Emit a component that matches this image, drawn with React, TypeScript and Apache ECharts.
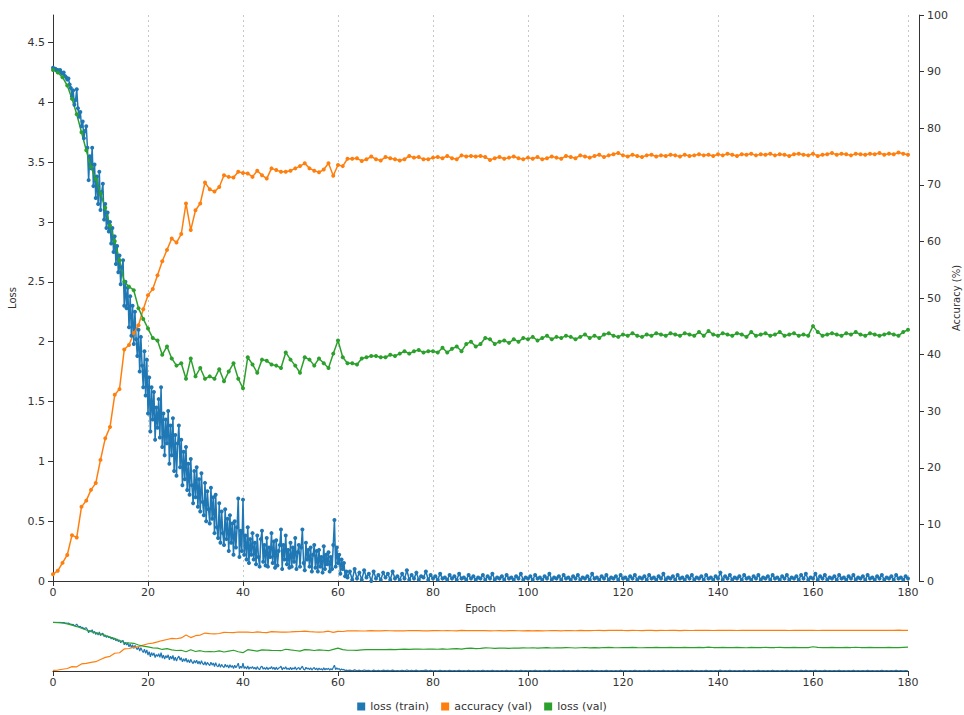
import React, { useEffect, useRef } from "react";
import * as echarts from "echarts";

const FONT = "DejaVu Sans";
const BLUE = "#1f77b4";
const ORANGE = "#ff7f0e";
const GREEN = "#2ca02c";

const seriesNames = ["loss (train)", "accuracy (val)", "loss (val)"];

// train loss, epochs 0..62 sampled every quarter epoch (index i -> epoch i/4)
const trainLossEarly = [
  4.29, 4.28, 4.28, 4.27, 4.27, 4.26, 4.27, 4.25, 4.24, 4.25, 4.22, 4.21,
  4.19, 4.2, 4.15, 4.12, 4.05, 4.1, 3.98, 4.02, 4.11, 3.95, 3.88, 3.92,
  3.8, 3.84, 3.7, 3.76, 3.8, 3.62, 3.35, 3.55, 3.45, 3.62, 3.3, 3.48,
  3.2, 3.38, 3.15, 3.42, 3.1, 3.25, 3.32, 3.02, 3.15, 2.95, 3.08, 2.92,
  3.0, 2.82, 2.95, 2.75, 2.88, 2.65, 2.8, 2.58, 2.72, 2.48, 2.62, 2.68,
  2.3, 2.5, 2.28, 2.45, 2.12, 2.38, 2.05, 2.3, 1.98, 2.25, 2.02, 1.88,
  2.1, 1.75, 2.04, 1.8, 1.62, 1.92, 1.55, 1.85, 1.4, 1.7, 1.25, 1.62,
  1.35, 1.58, 1.18, 1.45, 1.28, 1.52, 1.2, 1.62, 1.12, 1.4, 1.05, 1.35,
  1.15, 1.42, 0.98, 1.3, 1.05, 1.36, 0.92, 1.22, 0.88, 1.15, 1.3, 0.95,
  1.18, 0.8, 1.08, 0.85, 1.12, 0.76, 0.98, 0.72, 1.02, 0.8, 0.65, 0.92,
  0.7, 0.95, 0.62, 0.85, 0.58, 0.9, 0.66, 0.55, 0.82, 0.5, 0.75, 0.6,
  0.48, 0.78, 0.52, 0.7, 0.4, 0.72, 0.45, 0.36, 0.65, 0.32, 0.58, 0.4,
  0.3, 0.6, 0.35, 0.52, 0.25, 0.55, 0.32, 0.48, 0.22, 0.5, 0.28, 0.45,
  0.69, 0.2, 0.42, 0.25, 0.68, 0.22, 0.38, 0.18, 0.45, 0.15, 0.35, 0.22,
  0.4, 0.18, 0.32, 0.14, 0.38, 0.2, 0.12, 0.35, 0.42, 0.16, 0.3, 0.13,
  0.36, 0.12, 0.28, 0.2, 0.4, 0.15, 0.33, 0.11, 0.34, 0.13, 0.25, 0.3,
  0.43, 0.1, 0.3, 0.18, 0.38, 0.14, 0.26, 0.11, 0.32, 0.12, 0.28, 0.16,
  0.36, 0.1, 0.24, 0.3, 0.12, 0.28, 0.43, 0.15, 0.09, 0.32, 0.18, 0.26,
  0.12, 0.28, 0.08, 0.22, 0.3, 0.11, 0.25, 0.08, 0.26, 0.12, 0.2, 0.07,
  0.29, 0.1, 0.22, 0.14, 0.24, 0.08, 0.2, 0.1, 0.3, 0.51, 0.12, 0.28,
  0.15, 0.22, 0.06, 0.18, 0.1, 0.15, 0.04, 0.08, 0.03,
];

// train loss, epochs 62.5..180 sampled every half epoch (index i -> 62.5 + i/2)
const trainLossLate = [
  0.08, 0.01, 0.1, 0.02, 0.07,
  0.01, 0.09, 0.03, 0.06, 0.0, 0.08, 0.02, 0.05, 0.01, 0.07,
  0.03, 0.06, 0.01, 0.08, 0.02, 0.04, 0.01, 0.06, 0.02, 0.09,
  0.01, 0.05, 0.02, 0.07, 0.01, 0.04, 0.03, 0.08, 0.01, 0.05,
  0.02, 0.04, 0.01, 0.06, 0.02, 0.03, 0.01, 0.05, 0.02, 0.04,
  0.01, 0.06, 0.02, 0.03, 0.01, 0.05, 0.02, 0.04, 0.01, 0.03,
  0.02, 0.05, 0.01, 0.04, 0.02, 0.06, 0.01, 0.03, 0.02, 0.04,
  0.01, 0.05, 0.02, 0.03, 0.01, 0.04, 0.02, 0.06, 0.01, 0.03,
  0.02, 0.04, 0.01, 0.05, 0.02, 0.03, 0.01, 0.04, 0.02, 0.06,
  0.01, 0.03, 0.02, 0.04, 0.01, 0.05, 0.02, 0.03, 0.01, 0.04,
  0.02, 0.05, 0.01, 0.03, 0.02, 0.04, 0.01, 0.06, 0.02, 0.03,
  0.01, 0.04, 0.02, 0.05, 0.01, 0.03, 0.02, 0.04, 0.01, 0.05,
  0.02, 0.03, 0.01, 0.04, 0.02, 0.05, 0.01, 0.03, 0.02, 0.04,
  0.01, 0.05, 0.02, 0.03, 0.01, 0.04, 0.02, 0.06, 0.01, 0.03,
  0.02, 0.04, 0.01, 0.05, 0.02, 0.03, 0.01, 0.04, 0.02, 0.05,
  0.01, 0.03, 0.02, 0.04, 0.01, 0.05, 0.02, 0.03, 0.01, 0.04,
  0.02, 0.07, 0.01, 0.04, 0.02, 0.05, 0.01, 0.03, 0.02, 0.04,
  0.01, 0.05, 0.02, 0.03, 0.01, 0.04, 0.02, 0.05, 0.01, 0.03,
  0.02, 0.04, 0.01, 0.05, 0.02, 0.03, 0.01, 0.04, 0.02, 0.05,
  0.01, 0.03, 0.02, 0.04, 0.01, 0.05, 0.02, 0.06, 0.01, 0.03,
  0.02, 0.06, 0.01, 0.04, 0.02, 0.05, 0.01, 0.03, 0.02, 0.04,
  0.01, 0.05, 0.02, 0.03, 0.01, 0.04, 0.02, 0.05, 0.01, 0.03,
  0.02, 0.04, 0.01, 0.05, 0.02, 0.03, 0.01, 0.04, 0.02, 0.05,
  0.01, 0.03, 0.02, 0.04, 0.01, 0.05, 0.02, 0.03, 0.01, 0.04,
  0.02,
];

// validation accuracy (%) per epoch 0..180
const accVal = [
  1.2, 1.8, 3.2, 4.6, 8.1, 7.7, 13.1, 14.2, 16.1, 17.3,
  21.4, 25.2, 27.2, 32.9, 33.9, 40.9, 41.7, 43.8, 45.2, 48.0,
  50.5, 51.6, 54.0, 56.5, 58.5, 60.5, 59.8, 61.3, 66.7, 62.0,
  65.5, 66.7, 70.4, 69.2, 68.8, 69.6, 71.7, 71.4, 71.3, 72.3,
  72.1, 72.0, 71.4, 72.5, 71.7, 71.1, 72.9, 72.6, 72.3, 72.3,
  72.5, 72.9, 73.3, 73.8, 72.9, 72.5, 72.2, 72.7, 73.8, 71.6,
  73.5, 73.3, 74.6, 74.6, 74.7, 74.2, 74.5, 75.0, 74.5, 74.3,
  74.9, 74.7, 74.5, 74.3, 74.5, 75.1, 74.8, 74.9, 74.5, 74.5,
  74.8, 74.9, 74.7, 75.1, 74.7, 74.5, 75.2, 75.0, 75.1, 75.0,
  75.1, 74.9, 74.4, 74.7, 74.9, 74.6, 74.8, 75.0, 74.7, 74.5,
  74.8, 74.6, 74.9, 74.5, 74.7, 75.0, 74.8, 74.6, 75.1, 74.9,
  74.7, 75.2, 75.0, 74.8, 75.1, 75.3, 74.9, 75.2, 75.4, 75.6,
  75.2, 75.0, 75.3, 75.1, 74.9, 75.2, 75.3, 75.0, 75.2, 75.1,
  75.3, 75.2, 75.0, 75.3, 75.1, 75.2, 75.4, 75.2, 75.3, 75.1,
  75.4, 75.2, 75.5, 75.3, 75.1, 75.4, 75.3, 75.5, 75.2, 75.4,
  75.3, 75.5, 75.2, 75.4, 75.3, 75.1, 75.4, 75.5, 75.3, 75.2,
  75.5, 75.1, 75.3, 75.4, 75.6, 75.3, 75.5, 75.4, 75.2, 75.5,
  75.4, 75.3, 75.5, 75.4, 75.6, 75.3, 75.5, 75.4, 75.7, 75.5,
  75.3,
];

// validation loss per epoch 0..180
const lossVal = [
  4.27, 4.25, 4.21, 4.14, 4.03, 3.9, 3.75, 3.6, 3.46, 3.36,
  3.24, 3.12, 2.97, 2.84, 2.68, 2.5, 2.46, 2.43, 2.28, 2.19,
  2.11, 2.03, 2.01, 1.89, 1.96, 1.86, 1.8, 1.82, 1.69, 1.86,
  1.71, 1.78, 1.69, 1.71, 1.69, 1.77, 1.67, 1.75, 1.82, 1.69,
  1.61, 1.87, 1.81, 1.74, 1.85, 1.84, 1.81, 1.8, 1.78, 1.91,
  1.85, 1.8, 1.74, 1.87, 1.85, 1.8, 1.86, 1.82, 1.78, 1.9,
  2.01, 1.87, 1.82, 1.82, 1.81, 1.86, 1.87, 1.88, 1.88, 1.87,
  1.87, 1.89, 1.88, 1.9, 1.92, 1.9, 1.92, 1.93, 1.91, 1.92,
  1.92, 1.91, 1.95, 1.91, 1.94, 1.96, 1.92, 1.98, 2.0, 1.96,
  1.98, 2.03, 2.02, 1.98, 2.0, 2.01, 1.99, 2.02, 2.0, 2.03,
  2.02, 2.04, 2.01, 2.03, 2.05, 2.02, 2.04, 2.03, 2.05, 2.04,
  2.02, 2.04, 2.06, 2.03, 2.05, 2.03, 2.06, 2.07, 2.05, 2.04,
  2.06, 2.05, 2.07, 2.05, 2.04, 2.06, 2.05, 2.07, 2.06, 2.05,
  2.07, 2.06, 2.05, 2.07, 2.06, 2.05, 2.08, 2.05, 2.09, 2.06,
  2.05, 2.07, 2.06, 2.05, 2.07, 2.06, 2.04, 2.08, 2.05, 2.06,
  2.07, 2.05, 2.06, 2.08, 2.05, 2.06, 2.07, 2.05, 2.06, 2.05,
  2.13, 2.08, 2.05, 2.06, 2.07, 2.06, 2.05, 2.07, 2.06, 2.08,
  2.06, 2.05, 2.07, 2.06, 2.05, 2.06, 2.07, 2.06, 2.05, 2.08,
  2.1,
];

const TXT = "#333";
const AXIS = "#333";

export default function App() {
  const ref = useRef<HTMLDivElement>(null);
  useEffect(() => {
    if (!ref.current) return;
    const chart = echarts.init(ref.current, undefined, { renderer: "svg" });
    const trainPts = [
      ...trainLossEarly.map((v, i) => [i * 0.25, v]),
      ...trainLossLate.map((v, i) => [62.5 + i * 0.5, v]),
    ];
    const accPts = accVal.map((v, i) => [i, v]);
    const lossPts = lossVal.map((v, i) => [i, v]);
    const label = { color: TXT, fontSize: 11, fontFamily: FONT };
    const axisLine = { show: true, lineStyle: { color: AXIS, width: 1 } };
    const tick = { show: true, length: 5, lineStyle: { color: AXIS } };
    const mainLine = (name: string, color: string, data: number[][], yIdx: number, size: number) => ({
      name,
      type: "line",
      xAxisIndex: 0,
      yAxisIndex: yIdx,
      data,
      symbol: "circle",
      symbolSize: size,
      showAllSymbol: true,
      itemStyle: { color },
      lineStyle: { color, width: 1.5 },
      emphasis: { disabled: true },
    });
    const miniLine = (name: string, color: string, data: number[][], yIdx: number) => ({
      name,
      type: "line",
      xAxisIndex: 1,
      yAxisIndex: yIdx,
      data,
      showSymbol: false,
      itemStyle: { color },
      lineStyle: { color, width: 1.2 },
      emphasis: { disabled: true },
    });
    chart.setOption({
      animation: false,
      textStyle: { fontFamily: FONT },
      grid: [
        { left: 53, right: 56, top: 15, bottom: 134, outerBoundsMode: "none", containLabel: false },
        { left: 53, right: 56, top: 622, bottom: 44, outerBoundsMode: "none", containLabel: false },
      ],
      legend: {
        data: seriesNames,
        top: 701,
        left: "center",
        icon: "rect",
        itemWidth: 8,
        itemHeight: 8,
        itemGap: 12,
        padding: 0,
        textStyle: { color: TXT, fontSize: 11, fontFamily: FONT },
      },
      xAxis: [
        {
          gridIndex: 0,
          type: "value",
          min: 0,
          max: 180,
          interval: 20,
          name: "Epoch",
          nameLocation: "middle",
          nameGap: 22,
          nameMoveOverlap: false,
          nameTextStyle: { color: TXT, fontSize: 10, fontFamily: FONT },
          axisLine,
          axisTick: tick,
          axisLabel: { ...label, margin: 6 },
          splitLine: { show: true, lineStyle: { color: "#c8c8c8", type: [2, 3], width: 1 } },
        },
        {
          gridIndex: 1,
          type: "value",
          min: 0,
          max: 180,
          interval: 20,
          axisLine,
          axisTick: tick,
          axisLabel: { ...label, margin: 6 },
          splitLine: { show: false },
        },
      ],
      yAxis: [
        {
          gridIndex: 0,
          type: "value",
          min: 0,
          max: 4.73,
          interval: 0.5,
          name: "Loss",
          nameLocation: "middle",
          nameRotate: 90,
          nameGap: 36,
          nameMoveOverlap: false,
          nameTextStyle: { color: TXT, fontSize: 10, fontFamily: FONT },
          axisLine,
          axisTick: tick,
          axisLabel: { ...label, showMaxLabel: false },
          splitLine: { show: false },
        },
        {
          gridIndex: 0,
          type: "value",
          position: "right",
          offset: 11,
          min: 0,
          max: 100,
          interval: 10,
          name: "Accuracy (%)",
          nameLocation: "middle",
          nameRotate: 90,
          nameGap: 32,
          nameMoveOverlap: false,
          nameTextStyle: { color: TXT, fontSize: 10, fontFamily: FONT },
          axisLine,
          axisTick: tick,
          axisLabel: label,
          splitLine: { show: false },
        },
        { gridIndex: 1, type: "value", min: 0, max: 4.3, show: false },
        { gridIndex: 1, type: "value", min: 0, max: 90.9, show: false },
      ],
      series: [
        mainLine(seriesNames[0], BLUE, trainPts, 0, 4),
        mainLine(seriesNames[1], ORANGE, accPts, 1, 4),
        mainLine(seriesNames[2], GREEN, lossPts, 0, 4),
        miniLine(seriesNames[0], BLUE, trainPts, 2),
        miniLine(seriesNames[1], ORANGE, accPts, 3),
        miniLine(seriesNames[2], GREEN, lossPts, 2),
      ],
    });
    return () => chart.dispose();
  }, []);
  return (
    <div
      ref={ref}
      style={{ position: "fixed", left: 0, top: 0, width: 964, height: 715, background: "#fff" }}
    />
  );
}
